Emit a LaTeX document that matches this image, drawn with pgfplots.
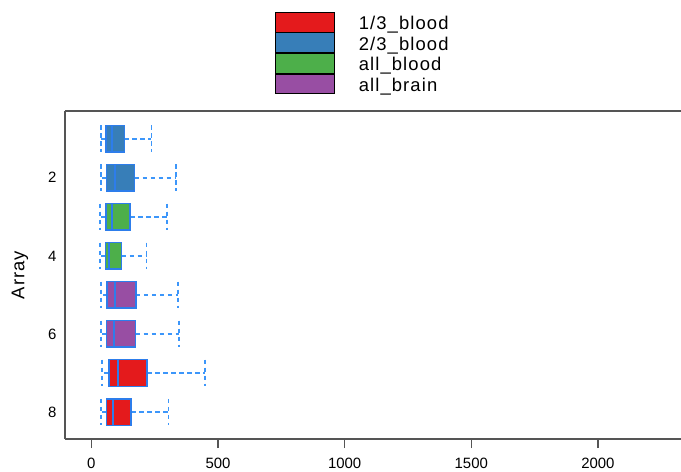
\documentclass[border=0pt]{standalone}
\usepackage{fontspec}
\setmainfont{Liberation Sans}
\newfontfamily\widesans[LetterSpace=6]{Liberation Sans}
\usepackage{pgfplots}
\usepgfplotslibrary{statistics}
\pgfplotsset{compat=1.18}

% Set1 palette for the groups
\definecolor{setred}{HTML}{E41A1C}
\definecolor{setblue}{HTML}{377EB8}
\definecolor{setgreen}{HTML}{4DAF4A}
\definecolor{setpurple}{HTML}{984EA3}
\definecolor{boxline}{RGB}{45,125,235}
\definecolor{whisk}{RGB}{60,150,250}
\definecolor{axisgray}{RGB}{85,85,85}

\pgfplotsset{
  arraybox/.style 2 args={
    forget plot,
    boxplot prepared={#1, box extend=0.68, whisker extend=0.68},
    boxplot/every box/.style={draw=boxline, fill=#2, line width=1.5bp},
    boxplot/every whisker/.style={draw=whisk, line width=1.6bp, dash pattern=on 4.5bp off 3.5bp},
    boxplot/every median/.style={draw=boxline, line width=2bp},
  },
  swatch/.style={legend image code/.code={
    \draw[fill=#1, draw=black, line width=0.8bp] (0bp,-7.8bp) rectangle (59bp,12bp);}},
}

\begin{document}
\begin{tikzpicture}[x=1bp,y=1bp]
\useasboundingbox (0,0) rectangle (681,472);
\begin{axis}[
  at={(65bp,33bp)}, anchor=south west,
  scale only axis, width=616bp, height=328bp,
  xmin=-104, xmax=2328,
  ymin=0.29, ymax=8.69, y dir=reverse,
  axis x line*=box, axis y line*=left,
  axis line style={draw=axisgray, line width=1.3bp},
  xtick={0,500,1000,1500,2000},
  ytick={2,4,6,8},
  xtick pos=left,
  xtick align=outside,
  major tick length=9bp,
  xtick style={draw=axisgray, line width=1.2bp},
  ytick style={draw=none},
  scaled x ticks=false,
  /pgf/number format/assume math mode=true,
  /pgf/number format/1000 sep={},
  tick label style={font=\fontsize{15}{18}\selectfont},
  xticklabel style={inner sep=1bp, yshift=-9bp},
  yticklabel style={xshift=-5bp},
  ylabel={Array},
  ylabel style={font=\widesans\fontsize{18.5}{20}\selectfont,
    at={(axis description cs:-0.073,0.5)}, anchor=center},
  legend cell align=left,
  legend style={
    at={(axis description cs:0.3409,1.3027)}, anchor=north west,
    draw=none, fill=none, inner sep=0pt, outer sep=0pt, row sep=0bp,
    nodes={inner sep=0pt, text height=11bp, text depth=0bp,
      font=\widesans\fontsize{18.5}{20}\selectfont},
    /tikz/every odd column/.append style={column sep=24bp},
  },
]
\addlegendimage{swatch=setred}
\addlegendentry{1/3\_blood}
\addlegendimage{swatch=setblue}
\addlegendentry{2/3\_blood}
\addlegendimage{swatch=setgreen}
\addlegendentry{all\_blood}
\addlegendimage{swatch=setpurple}
\addlegendentry{all\_brain}

% one box per array: whiskers, quartiles and median
\addplot[arraybox={draw position=1, lower whisker=38, lower quartile=57, median=83,  upper quartile=130, upper whisker=237}{setblue}] coordinates {};
\addplot[arraybox={draw position=2, lower whisker=38, lower quartile=59, median=94,  upper quartile=171, upper whisker=335}{setblue}] coordinates {};
\addplot[arraybox={draw position=3, lower whisker=33, lower quartile=57, median=83,  upper quartile=153, upper whisker=298}{setgreen}] coordinates {};
\addplot[arraybox={draw position=4, lower whisker=33, lower quartile=55, median=70,  upper quartile=120, upper whisker=217}{setgreen}] coordinates {};
\addplot[arraybox={draw position=5, lower whisker=37, lower quartile=62, median=92,  upper quartile=176, upper whisker=343}{setpurple}] coordinates {};
\addplot[arraybox={draw position=6, lower whisker=37, lower quartile=59, median=91,  upper quartile=175, upper whisker=345}{setpurple}] coordinates {};
\addplot[arraybox={draw position=7, lower whisker=41, lower quartile=69, median=107, upper quartile=220, upper whisker=449}{setred}] coordinates {};
\addplot[arraybox={draw position=8, lower whisker=38, lower quartile=59, median=84,  upper quartile=157, upper whisker=304}{setred}] coordinates {};
\end{axis}
\end{tikzpicture}
\end{document}
